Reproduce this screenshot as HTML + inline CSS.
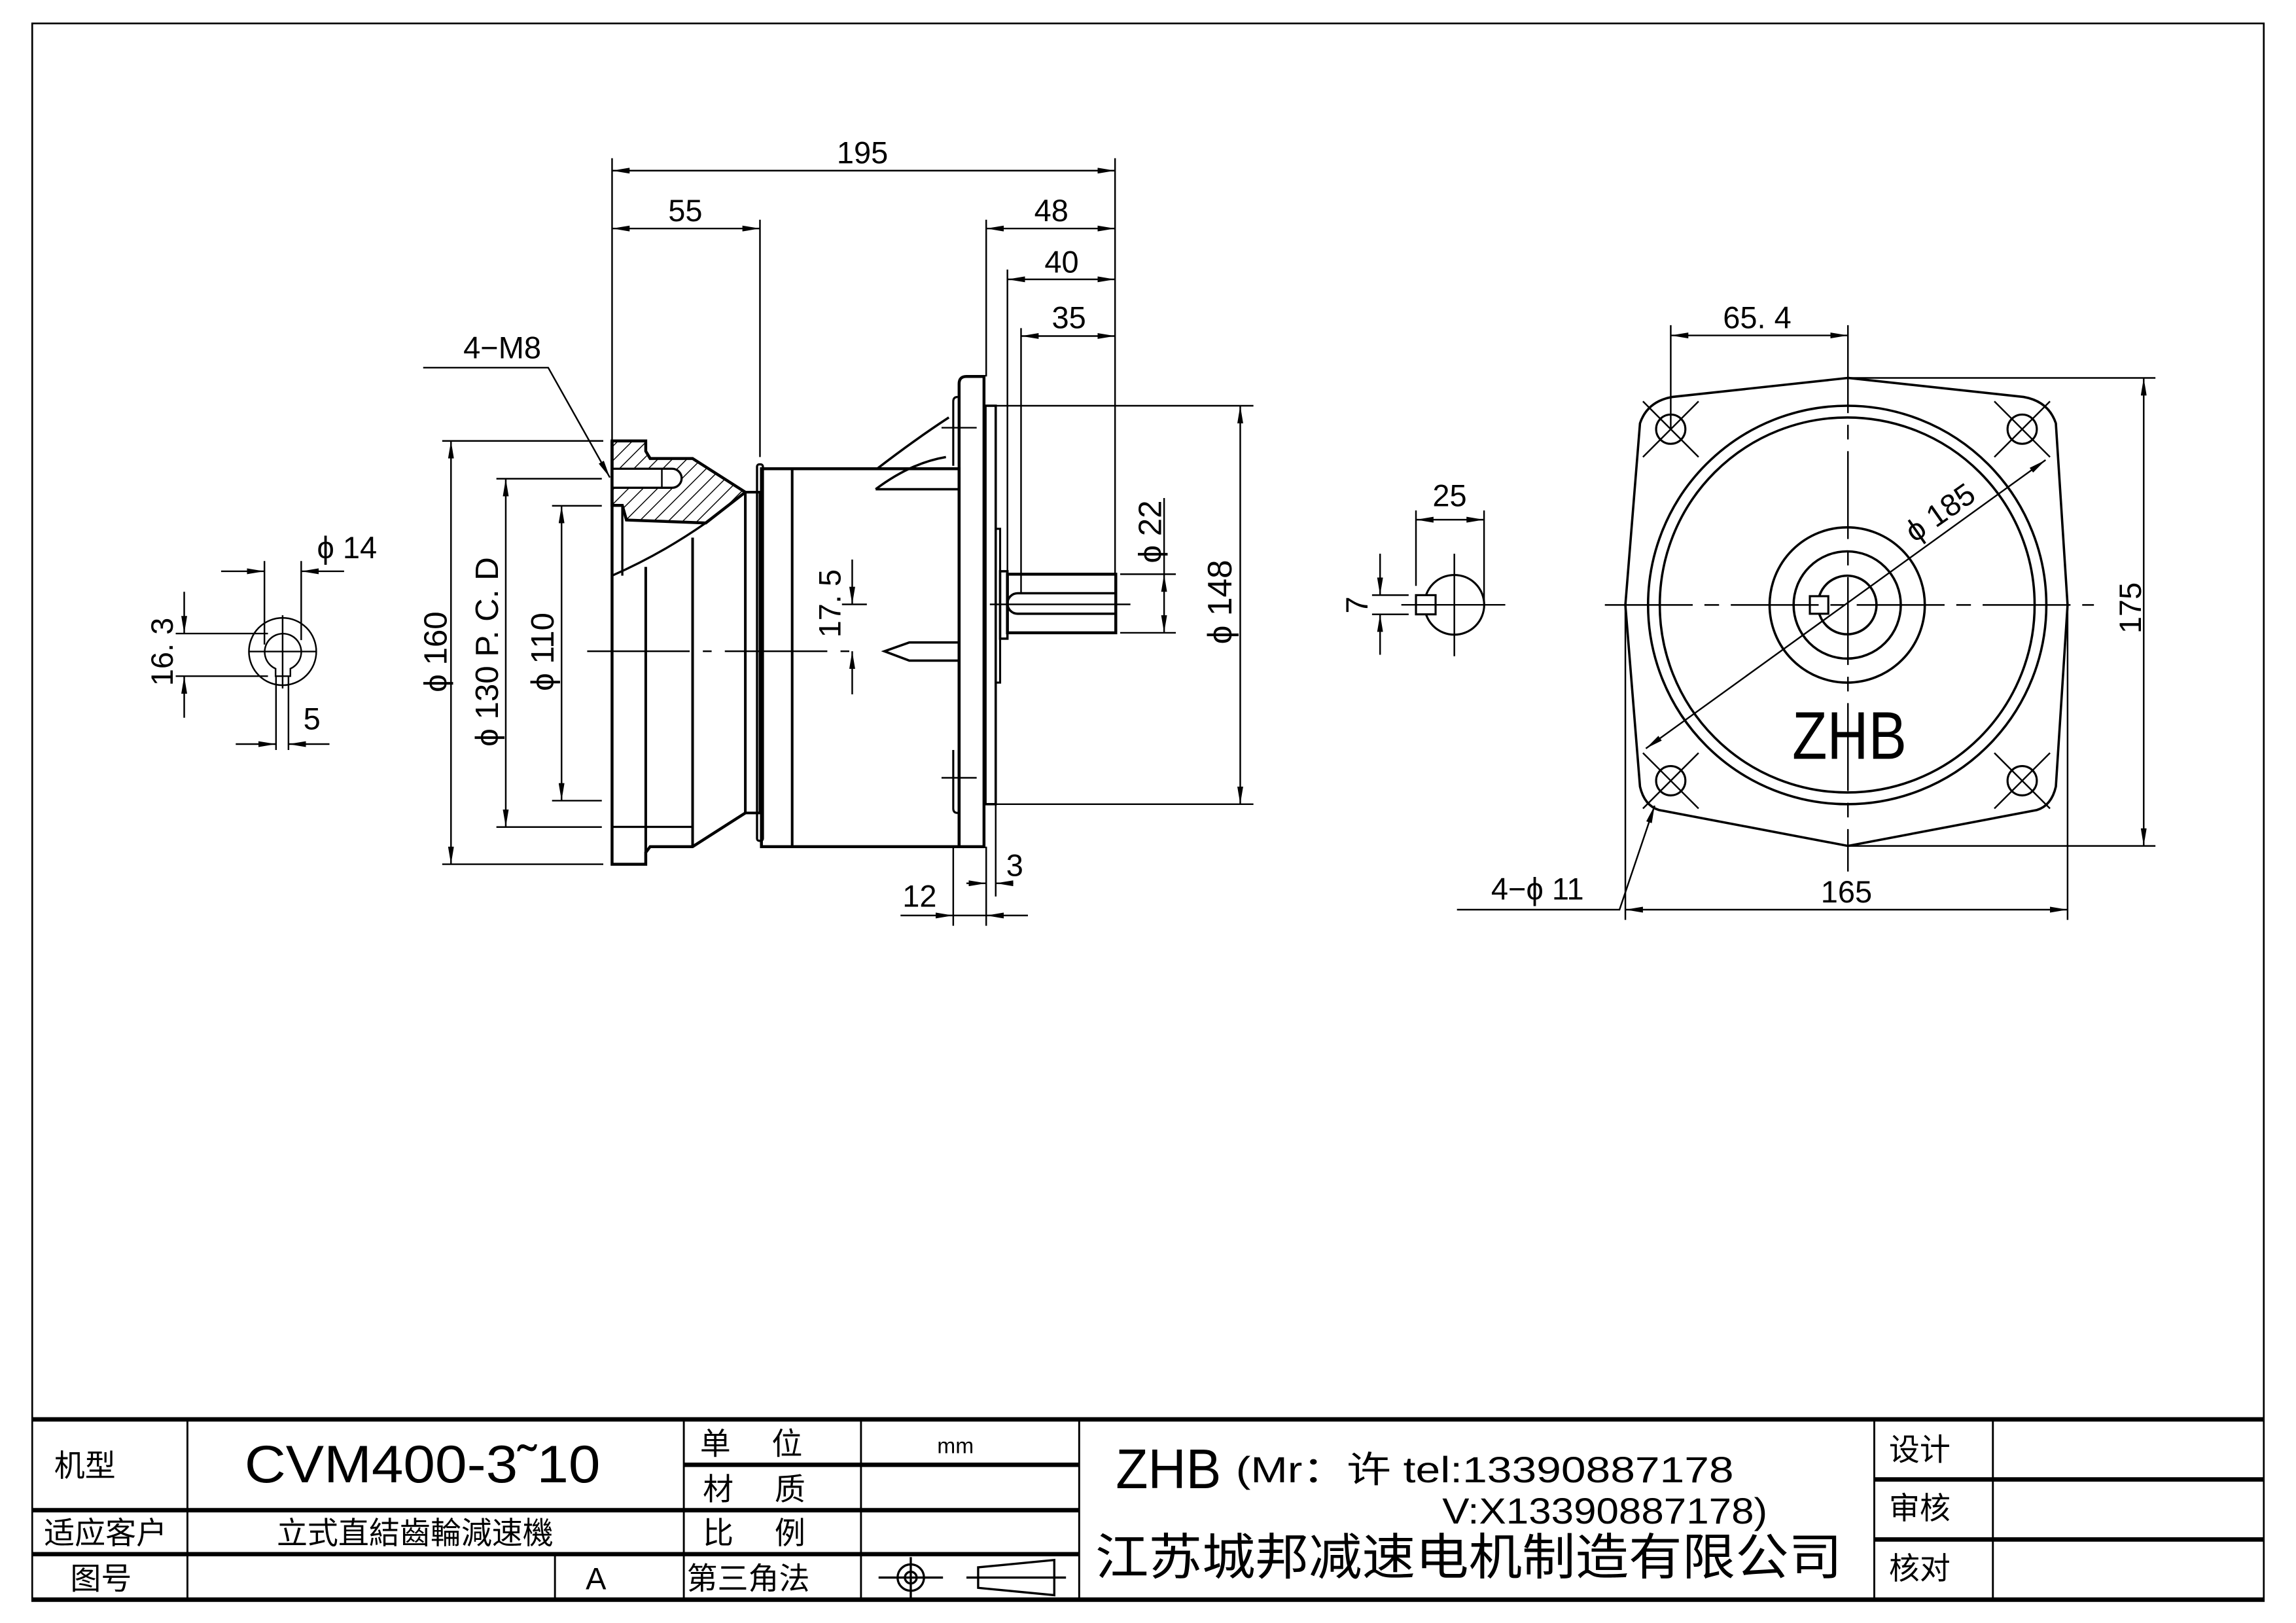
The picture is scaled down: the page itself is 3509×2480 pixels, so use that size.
<!DOCTYPE html>
<html><head><meta charset="utf-8"><style>
html,body{margin:0;padding:0;background:#fff}
svg{display:block}
text{font-family:"Liberation Sans","Noto Sans CJK SC",sans-serif;fill:#000}
</style></head><body>
<svg width="3509" height="2480" viewBox="0 0 1568 1108" preserveAspectRatio="none" xmlns="http://www.w3.org/2000/svg">
<defs>
<marker id="a" viewBox="0 0 12 4" refX="12" refY="2" markerWidth="12" markerHeight="4" markerUnits="userSpaceOnUse" orient="auto-start-reverse"><path d="M0,0 L12,2 L0,4 Z" fill="#000"/></marker>
<pattern id="h" width="7" height="7" patternUnits="userSpaceOnUse" patternTransform="rotate(45)"><line x1="0" y1="0" x2="0" y2="7" stroke="#000" stroke-width="1.3"/></pattern>
</defs>
<rect width="1568" height="1108" fill="#fff"/>
<rect x="22" y="16" width="1524" height="1077" fill="none" stroke="#000" stroke-width="1.2"/>

<g fill="none" stroke="#000" stroke-width="1.1">
<circle cx="193" cy="444.8" r="23"/>
<path d="M188.2,456.5 A12.5,12.5 0 1 1 198.3,456.5 L198.3,461.6 L188.2,461.6 Z"/>
<line x1="170" y1="444.8" x2="216" y2="444.8"/>
<line x1="193" y1="420" x2="193" y2="470"/>
<line x1="180.6" y1="383" x2="180.6" y2="440"/>
<line x1="205.7" y1="383" x2="205.7" y2="437"/>
<line x1="151" y1="390" x2="180.6" y2="390" marker-end="url(#a)"/>
<line x1="235" y1="390" x2="205.7" y2="390" marker-end="url(#a)"/>
<line x1="120" y1="432.5" x2="183" y2="432.5"/>
<line x1="120" y1="461.6" x2="183" y2="461.6"/>
<line x1="125.8" y1="404" x2="125.8" y2="432.5" marker-end="url(#a)"/>
<line x1="125.8" y1="490" x2="125.8" y2="461.6" marker-end="url(#a)"/>
<line x1="188.5" y1="462" x2="188.5" y2="512"/>
<line x1="197" y1="462" x2="197" y2="512"/>
<line x1="161" y1="508" x2="188.5" y2="508" marker-end="url(#a)"/>
<line x1="225" y1="508" x2="197" y2="508" marker-end="url(#a)"/>

<path d="M418,301 L441,301 L441,308 L444,313 L473,313 L509,336 L482,357 L427.8,355 L425,345 L418,345 Z" fill="url(#h)" stroke-width="2"/>
<path d="M418,320 L459,320 A6.5,6.5 0 0 1 459,333 L418,333 Z" fill="#fff" stroke-width="1.5"/>
<line x1="452" y1="320" x2="452" y2="333"/>
<path d="M418,301 L418,590 L441,590 L441,582 L444,578 L473,578 L509,555" stroke-width="2"/>
<path d="M425,345 L425,393" stroke-width="1.5"/>
<path d="M418,393 Q452,378 482,357" stroke-width="1.5"/>
<line x1="441" y1="387" x2="441" y2="582" stroke-width="1.8"/>
<line x1="473" y1="367" x2="473" y2="578" stroke-width="1.8"/>
<line x1="418" y1="564.5" x2="473" y2="564.5" stroke-width="1.5"/>
<rect x="509" y="336" width="10" height="219" stroke-width="1.8"/>
<rect x="517" y="317" width="4" height="257" rx="1.5" stroke-width="1.5"/>
<rect x="520" y="320" width="135" height="258" stroke-width="2"/>
<line x1="541" y1="320" x2="541" y2="578" stroke-width="1.8"/>
<path d="M599,320 Q625,300 648,285" stroke-width="1.6"/>
<path d="M598,334 Q622,316 646,312" stroke-width="1.6"/>
<line x1="598" y1="334" x2="655" y2="334" stroke-width="1.6"/>
<path d="M655,578 L655,262 Q655,257 660,257 L672,257 L672,578 Z" stroke-width="2"/>
<path d="M651,318 L651,274 Q651,271 654,271" stroke-width="1.4"/>
<path d="M651,512 L651,552 Q651,555 654,555" stroke-width="1.4"/>
<line x1="643" y1="292" x2="667" y2="292"/>
<line x1="643" y1="531" x2="667" y2="531"/>
<rect x="673" y="277" width="7" height="272" stroke-width="1.6"/>
<rect x="680" y="361" width="3" height="105" stroke-width="1.4"/>
<rect x="683" y="390" width="5" height="46" stroke-width="1.6"/>
<rect x="688" y="392" width="74" height="40" stroke-width="2"/>
<path d="M762,405 L695,405 A7,7 0 0 0 695,419 L762,419" stroke-width="1.6"/>
<line x1="676" y1="412.6" x2="772" y2="412.6"/>
<path d="M655,438.6 L621,438.6 L604,444.6 L621,451 L655,451" stroke-width="1.6"/>
<line x1="401" y1="444.6" x2="587" y2="444.6" stroke-dasharray="70 9 6 9"/>
<line x1="418" y1="108" x2="418" y2="300"/>
<line x1="519" y1="150" x2="519" y2="312"/>
<line x1="673.5" y1="150" x2="673.5" y2="257"/>
<line x1="688" y1="184" x2="688" y2="392"/>
<line x1="697.3" y1="224" x2="697.3" y2="405"/>
<line x1="761.5" y1="108" x2="761.5" y2="392"/>
<line x1="418" y1="116.5" x2="761.5" y2="116.5" marker-start="url(#a)" marker-end="url(#a)"/>
<line x1="418" y1="156" x2="519" y2="156" marker-start="url(#a)" marker-end="url(#a)"/>
<line x1="673.5" y1="156" x2="761.5" y2="156" marker-start="url(#a)" marker-end="url(#a)"/>
<line x1="688" y1="190.7" x2="761.5" y2="190.7" marker-start="url(#a)" marker-end="url(#a)"/>
<line x1="697.3" y1="229.4" x2="761.5" y2="229.4" marker-start="url(#a)" marker-end="url(#a)"/>
<line x1="680" y1="277" x2="856" y2="277"/>
<line x1="680" y1="549" x2="856" y2="549"/>
<line x1="847" y1="277" x2="847" y2="549" marker-start="url(#a)" marker-end="url(#a)"/>
<line x1="765" y1="392" x2="803" y2="392"/>
<line x1="765" y1="432" x2="803" y2="432"/>
<line x1="795" y1="340" x2="795" y2="392"/>
<line x1="795" y1="392" x2="795" y2="432" marker-start="url(#a)" marker-end="url(#a)"/>
<line x1="575" y1="412.6" x2="592" y2="412.6"/>
<line x1="582" y1="382" x2="582" y2="412.6" marker-end="url(#a)"/>
<line x1="582" y1="474" x2="582" y2="444.6" marker-end="url(#a)"/>
<line x1="651" y1="578" x2="651" y2="632"/>
<line x1="673.5" y1="578" x2="673.5" y2="632"/>
<line x1="680" y1="549" x2="680" y2="612"/>
<line x1="615" y1="625" x2="651" y2="625" marker-end="url(#a)"/>
<line x1="702" y1="625" x2="673.5" y2="625" marker-end="url(#a)"/>
<line x1="651" y1="625" x2="673.5" y2="625"/>
<line x1="660" y1="603" x2="673.5" y2="603" marker-end="url(#a)"/>
<line x1="692" y1="603" x2="680" y2="603" marker-end="url(#a)"/>
<line x1="302" y1="301" x2="412" y2="301"/>
<line x1="302" y1="590" x2="412" y2="590"/>
<line x1="308" y1="301" x2="308" y2="590" marker-start="url(#a)" marker-end="url(#a)"/>
<line x1="339" y1="326.8" x2="411" y2="326.8"/>
<line x1="339" y1="564.6" x2="411" y2="564.6"/>
<line x1="345.4" y1="326.8" x2="345.4" y2="564.6" marker-start="url(#a)" marker-end="url(#a)"/>
<line x1="377" y1="345.3" x2="411" y2="345.3"/>
<line x1="377" y1="546.6" x2="411" y2="546.6"/>
<line x1="383.5" y1="345.3" x2="383.5" y2="546.6" marker-start="url(#a)" marker-end="url(#a)"/>
<path d="M289,251 L374.4,251 L416.5,326" marker-end="url(#a)"/>

<circle cx="993.2" cy="412.9" r="20.4" stroke-width="1.4"/>
<rect x="967" y="406.3" width="13.4" height="13.1" fill="#fff" stroke-width="1.4"/>
<line x1="957" y1="412.9" x2="1028" y2="412.9"/>
<line x1="993.2" y1="378" x2="993.2" y2="448"/>
<line x1="967" y1="348.5" x2="967" y2="400"/>
<line x1="1013.5" y1="348.5" x2="1013.5" y2="410"/>
<line x1="967" y1="354.8" x2="1013.5" y2="354.8" marker-start="url(#a)" marker-end="url(#a)"/>
<line x1="937" y1="406.3" x2="962" y2="406.3"/>
<line x1="937" y1="419.4" x2="962" y2="419.4"/>
<line x1="942.5" y1="378" x2="942.5" y2="406.3" marker-end="url(#a)"/>
<line x1="942.5" y1="447" x2="942.5" y2="419.4" marker-end="url(#a)"/>

<path d="M1262,258 L1142,271 Q1125,274 1120,289 L1110,413 L1120,537 Q1123,550 1133,553 L1262,577.5 L1391,553 Q1401,550 1404,537 L1412,413 L1404,289 Q1399,274 1382,271 Z" stroke-width="1.6"/>
<circle cx="1261.5" cy="413" r="136" stroke-width="1.6"/>
<circle cx="1261.5" cy="413" r="128" stroke-width="1.6"/>
<circle cx="1261.5" cy="413" r="53" stroke-width="1.6"/>
<circle cx="1261.5" cy="413" r="36.6" stroke-width="1.6"/>
<circle cx="1261.5" cy="413" r="20" stroke-width="1.6"/>
<rect x="1236" y="407" width="12.6" height="12" fill="#fff" stroke-width="1.4"/>
<g stroke-width="1.4">
<circle cx="1141" cy="293" r="10"/><circle cx="1381" cy="293" r="10"/>
<circle cx="1141" cy="533" r="10"/><circle cx="1381" cy="533" r="10"/>
</g>
<g>
<line x1="1122" y1="274" x2="1160" y2="312"/><line x1="1160" y1="274" x2="1122" y2="312"/>
<line x1="1362" y1="274" x2="1400" y2="312"/><line x1="1400" y1="274" x2="1362" y2="312"/>
<line x1="1122" y1="514" x2="1160" y2="552"/><line x1="1160" y1="514" x2="1122" y2="552"/>
<line x1="1362" y1="514" x2="1400" y2="552"/><line x1="1400" y1="514" x2="1362" y2="552"/>
</g>
<line x1="1096" y1="413" x2="1430" y2="413" stroke-dasharray="60 8 10 8"/>
<line x1="1262" y1="222" x2="1262" y2="595" stroke-dasharray="60 8 10 8"/>
<line x1="1124" y1="511" x2="1397" y2="314" marker-start="url(#a)" marker-end="url(#a)"/>
<line x1="1141" y1="222" x2="1141" y2="293"/>
<line x1="1141" y1="229" x2="1262" y2="229" marker-start="url(#a)" marker-end="url(#a)"/>
<line x1="1262" y1="258" x2="1472" y2="258"/>
<line x1="1262" y1="577.5" x2="1472" y2="577.5"/>
<line x1="1464" y1="258" x2="1464" y2="577.5" marker-start="url(#a)" marker-end="url(#a)"/>
<line x1="1110" y1="413" x2="1110" y2="628"/>
<line x1="1412" y1="413" x2="1412" y2="628"/>
<line x1="1110" y1="621" x2="1412" y2="621" marker-start="url(#a)" marker-end="url(#a)"/>
<path d="M995,621 L1106,621 L1130,550" marker-end="url(#a)"/>
</g>

<g font-size="21" text-anchor="middle">
<text x="589" y="111.5">195</text>
<text x="468" y="151">55</text>
<text x="718" y="151">48</text>
<text x="725" y="186">40</text>
<text x="730" y="224">35</text>
<text x="628" y="619">12</text>
<text x="693" y="598">3</text>
<text x="990" y="345.5">25</text>
<text x="1200" y="224">65. 4</text>
<text x="1261" y="616">165</text>
<text x="237" y="381">ϕ 14</text>
<text x="213" y="498">5</text>
<text x="343" y="244.5">4−M8</text>
<text x="1050" y="614">4−ϕ 11</text>
<text transform="translate(111,445) rotate(-90)" y="7">16. 3</text>
<text transform="translate(297,445) rotate(-90)" y="8" font-size="22">ϕ 160</text>
<text transform="translate(332,445) rotate(-90)" y="8" font-size="22">ϕ 130  P. C. D</text>
<text transform="translate(370,445) rotate(-90)" y="8" font-size="22">ϕ 110</text>
<text transform="translate(567,412) rotate(-90)" y="7">17. 5</text>
<text transform="translate(785,363) rotate(-90)" y="8" font-size="22">ϕ 22</text>
<text transform="translate(833,411) rotate(-90)" y="8" font-size="23">ϕ 148</text>
<text transform="translate(927,413) rotate(-90)" y="7">7</text>
<text transform="translate(1455,415) rotate(-90)" y="7">175</text>
<text transform="translate(1325,350) rotate(-35)" y="7">ϕ 185</text>
</g>
<text x="1263" y="518" font-size="46" text-anchor="middle" transform="translate(1263,0) scale(0.85,1) translate(-1263,0)">ZHB</text>

<g fill="none" stroke="#000">
<line x1="22" y1="969" x2="1546" y2="969" stroke-width="3"/>
<line x1="22" y1="1092" x2="1546" y2="1092" stroke-width="3"/>
<line x1="22" y1="1031" x2="737" y2="1031" stroke-width="3"/>
<line x1="22" y1="1061" x2="737" y2="1061" stroke-width="3"/>
<line x1="467" y1="1000" x2="737" y2="1000" stroke-width="3"/>
<line x1="1280" y1="1010" x2="1546" y2="1010" stroke-width="3"/>
<line x1="1280" y1="1051" x2="1546" y2="1051" stroke-width="3"/>
<g stroke-width="1.3">
<line x1="128" y1="969" x2="128" y2="1092"/>
<line x1="379" y1="1061" x2="379" y2="1092"/>
<line x1="467" y1="969" x2="467" y2="1092"/>
<line x1="588" y1="969" x2="588" y2="1092"/>
<line x1="737" y1="969" x2="737" y2="1092"/>
<line x1="1280" y1="969" x2="1280" y2="1092"/>
<line x1="1361" y1="969" x2="1361" y2="1092"/>
</g>
<g stroke-width="1.5">
<circle cx="622" cy="1077" r="9"/>
<circle cx="622" cy="1077" r="4"/>
<line x1="600" y1="1077" x2="644" y2="1077"/>
<line x1="622" y1="1063" x2="622" y2="1091"/>
<path d="M668,1070 L720,1065 L720,1089 L668,1084 Z"/>
<line x1="660" y1="1077" x2="728" y2="1077"/>
</g>
</g>
<g font-size="21">
<text x="37" y="1008">机型</text>
<text x="30" y="1054">适应客户</text>
<text x="48" y="1085">图号</text>
<text x="478" y="993">单</text><text x="527" y="993">位</text>
<text x="480" y="1024">材</text><text x="529" y="1024">质</text>
<text x="480" y="1054">比</text><text x="529" y="1054">例</text>
<text x="469" y="1085">第三角法</text>
<text x="189" y="1054">立式直結齒輪減速機</text>
<text x="400" y="1085">A</text>
<text x="640" y="992" font-size="15">mm</text>
<text x="1290" y="997">设计</text>
<text x="1290" y="1037">审核</text>
<text x="1290" y="1078">核对</text>
</g>
<text x="167" y="1012" font-size="36" textLength="243" lengthAdjust="spacingAndGlyphs">CVM400-3˜10</text>
<text x="762" y="1016" font-size="38" textLength="72" lengthAdjust="spacingAndGlyphs">ZHB</text>
<text x="844" y="1012" font-size="25" textLength="340" lengthAdjust="spacingAndGlyphs">(Mr：许 tel:13390887178</text>
<text x="985" y="1040" font-size="25" textLength="222" lengthAdjust="spacingAndGlyphs">V:X13390887178)</text>
<text x="748" y="1075" font-size="34" textLength="510" lengthAdjust="spacingAndGlyphs">江苏城邦减速电机制造有限公司</text>
</svg>
</body></html>
